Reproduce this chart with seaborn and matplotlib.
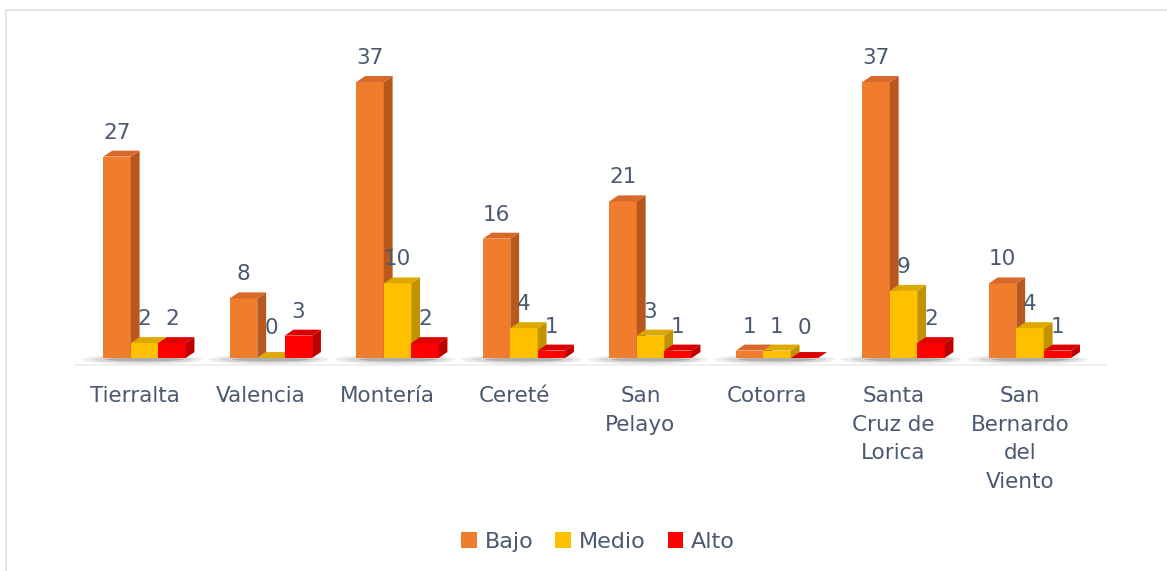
import matplotlib
matplotlib.use("Agg")
import matplotlib.pyplot as plt
from matplotlib.patches import Polygon, Ellipse
from matplotlib.lines import Line2D
from matplotlib.transforms import ScaledTranslation
import seaborn as sns
import pandas as pd

# Municipalities and counts per risk level
municipios = ["Tierralta", "Valencia", "Montería", "Cereté", "San\nPelayo",
              "Cotorra", "Santa\nCruz de\nLorica", "San\nBernardo\ndel\nViento"]
niveles = ["Bajo", "Medio", "Alto"]
bajo = [27, 8, 37, 16, 21, 1, 37, 10]
medio = [2, 0, 10, 4, 3, 1, 9, 4]
alto = [2, 3, 2, 1, 1, 0, 2, 1]

colores = {"Bajo": "#F07D2E", "Medio": "#FFC000", "Alto": "#FF0000"}
colores_top = {"Bajo": "#D8692A", "Medio": "#DDA800", "Alto": "#DD0000"}
colores_lado = {"Bajo": "#B9581E", "Medio": "#C29200", "Alto": "#BE0000"}
texto = "#4A5870"

df = pd.DataFrame({
    "Municipio": municipios * 3,
    "Nivel": ["Bajo"] * 8 + ["Medio"] * 8 + ["Alto"] * 8,
    "Casos": bajo + medio + alto,
})

sns.set_theme(style="white")
plt.rcParams["font.family"] = ["DejaVu Sans"]

fig = plt.figure(figsize=(11.67, 5.71), dpi=100)
ax = fig.add_axes([0.0696, 0.373, 0.8672, 0.5226])

sns.barplot(data=df, x="Municipio", y="Casos", hue="Nivel", hue_order=niveles,
            palette=colores, width=0.65, ax=ax, legend=False,
            saturation=1, linewidth=0, errorbar=None)

ax.set_xlim(-0.5, 7.5)
ax.set_ylim(0, 40)

# depth of the pseudo-3D extrusion, in data units
dx, dy = 0.07, 0.8

bars = []
for nivel, cont in zip(niveles, ax.containers):
    for p in cont.patches:
        bars.append((p, nivel))
bars.sort(key=lambda b: b[0].get_x())

for k, (p, nivel) in enumerate(bars):
    z = 3 + k * 0.01
    x, w, h = p.get_x(), p.get_width(), p.get_height()
    p.set_zorder(z)
    side = Polygon([(x + w, 0), (x + w + dx, dy), (x + w + dx, h + dy), (x + w, h)],
                   closed=True, facecolor=colores_lado[nivel], edgecolor="none", zorder=z)
    top = Polygon([(x, h), (x + dx, h + dy), (x + w + dx, h + dy), (x + w, h)],
                  closed=True, facecolor=colores_top[nivel], edgecolor="none", zorder=z)
    ax.add_patch(side)
    ax.add_patch(top)
    off = 13 if h > 0 else 17
    ax.annotate(f"{int(h)}", (x + w / 2, h), xytext=(0, off), textcoords="offset points",
                ha="center", va="baseline", fontsize=15.5, color=texto, zorder=10)

# soft floor shadow under each group
for i in range(len(municipios)):
    for a, cx, hw, hh in [(0.10, -0.02, 0.95, 1.3), (0.15, -0.01, 0.8, 0.9), (0.3, 0.0, 0.62, 0.5)]:
        ax.add_patch(Ellipse((i + cx, -0.2), hw, hh, facecolor="#555555",
                             edgecolor="none", alpha=a, zorder=2, clip_on=False))
ax.plot([-0.55, 7.6], [-1.0, -1.0], color="#ECECEC", lw=1.2, zorder=1, clip_on=False)

ax.set_xlabel("")
ax.set_ylabel("")
ax.set_yticks([])
for s in ax.spines.values():
    s.set_visible(False)
ax.tick_params(axis="x", length=0, pad=20, labelsize=15.5, labelcolor=texto)
for lab in ax.get_xticklabels():
    lab.set_linespacing(1.55)
    lab.set_transform(lab.get_transform() + ScaledTranslation(-10 / 100, 0, fig.dpi_scale_trans))

# legend
handles = [plt.Rectangle((0, 0), 1, 1, facecolor=colores[n], edgecolor="none") for n in niveles]
fig.legend(handles, niveles, loc="center", bbox_to_anchor=(598 / 1167, 1 - 542 / 571),
           ncol=3, frameon=False, fontsize=16, labelcolor=texto,
           handlelength=0.7, handleheight=0.7, handletextpad=0.35, columnspacing=1.0)

# outer frame
fig.add_artist(Line2D([6 / 1167, 1], [1 - 10 / 571, 1 - 10 / 571], color="#DCE1E8", lw=1.2))
fig.add_artist(Line2D([6 / 1167, 6 / 1167], [0, 1 - 10 / 571], color="#DCE1E8", lw=1.2))

fig.savefig("out.png", dpi=100, facecolor="white")
